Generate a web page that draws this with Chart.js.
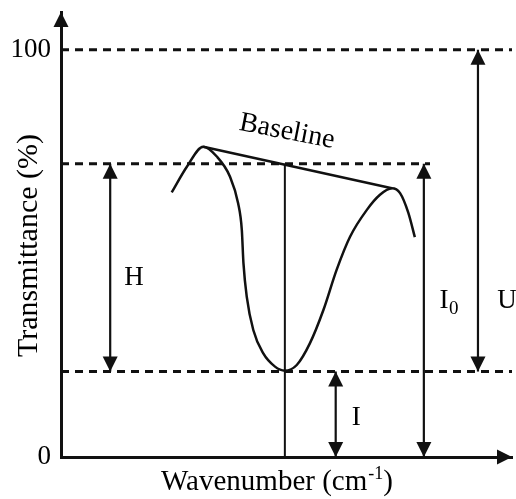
<!DOCTYPE html>
<html>
<head>
<meta charset="utf-8">
<script src="https://cdn.jsdelivr.net/npm/chart.js@4"></script>
<style>
  body { margin: 0; background: #fff; }
</style>
</head>
<body>
<canvas id="ir-band" width="516" height="499"></canvas>
<script>
// absorption band, x in arbitrary wavenumber units, y in % transmittance
var wavenumber = [27.0, 30.7, 34.7, 38.0, 41.2, 43.2, 44.1, 44.5, 45.3, 46.9, 49.3, 52.2,
                  54.6, 57.5, 60.7, 64.0, 67.2, 70.5, 74.6, 77.8, 80.7, 82.7, 84.7, 86.3];
var transmittance = [65.0, 71.3, 76.2, 73.8, 68.9, 62.3, 55.8, 47.6, 39.4, 31.2, 25.5, 22.2,
                     21.2, 22.6, 27.9, 36.1, 45.9, 54.1, 60.7, 64.4, 66.0, 64.8, 60.0, 54.0];

// straight baseline between the two shoulders
var baselineX = [34.7, 80.7];
var baselineY = [76.2, 66.0];

// band centre
var bandCentre = 54.6;

// dashed reference levels: 100 %, baseline at centre, band minimum
var levels = [100, 72, 21];
var levelEnds = [110, 90, 110];

// double arrows H, I, I0, U  (top and bottom value of each)
var arrowNames = ['H', 'I', 'I0', 'U'];
var arrowTop = [72, 21, 72, 100];
var arrowBottom = [21, 0, 0, 21];
var arrowAt = [12, 67, 88.5, 101.7];

var yTicks = [0, 100];

var FONT = '"Liberation Serif", "Times New Roman", serif';

function head(ctx, x, y, angle) {
    ctx.save();
    ctx.translate(x, y);
    ctx.rotate(angle);
    ctx.beginPath();
    ctx.moveTo(0, 0);
    ctx.lineTo(-15, -7.5);
    ctx.lineTo(-15, 7.5);
    ctx.closePath();
    ctx.fill();
    ctx.restore();
}

var datasets = [];

levels.forEach(function (v, i) {
    datasets.push({
        data: [{ x: 0, y: v }, { x: levelEnds[i], y: v }],
        borderColor: '#111',
        borderWidth: 3,
        borderDash: [8, 6],
        pointRadius: 0
    });
});

datasets.push({
    data: wavenumber.map(function (x, i) { return { x: x, y: transmittance[i] }; }),
    borderColor: '#111',
    borderWidth: 2.5,
    pointRadius: 0,
    cubicInterpolationMode: 'monotone'
});

datasets.push({
    data: [{ x: baselineX[0], y: baselineY[0] }, { x: baselineX[1], y: baselineY[1] }],
    borderColor: '#111',
    borderWidth: 2.5,
    pointRadius: 0
});

datasets.push({
    data: [{ x: bandCentre, y: 0 }, { x: bandCentre, y: levels[1] }],
    borderColor: '#111',
    borderWidth: 2,
    pointRadius: 0
});

arrowNames.forEach(function (name, i) {
    datasets.push({
        label: name,
        arrow: true,
        data: [{ x: arrowAt[i], y: arrowTop[i] }, { x: arrowAt[i], y: arrowBottom[i] }],
        borderColor: '#111',
        borderWidth: 2.2,
        pointRadius: 0
    });
});

var decorations = {
    id: 'decorations',
    afterDatasetsDraw: function (chart) {
        var ctx = chart.ctx;
        var area = chart.chartArea;
        var xs = chart.scales.x, ys = chart.scales.y;
        ctx.save();
        ctx.fillStyle = '#111';

        // arrow heads on the measuring arrows
        chart.data.datasets.forEach(function (ds, i) {
            if (!ds.arrow) return;
            var pts = chart.getDatasetMeta(i).data;
            var a = pts[0], b = pts[pts.length - 1];
            var ang = Math.atan2(b.y - a.y, b.x - a.x);
            head(ctx, b.x, b.y, ang);
            head(ctx, a.x, a.y, ang + Math.PI);
        });

        // axis arrows
        head(ctx, area.left, area.top, -Math.PI / 2);
        head(ctx, area.right, area.bottom, 0);

        // labels
        ctx.fillStyle = '#000';
        ctx.textBaseline = 'alphabetic';
        ctx.font = '27px ' + FONT;
        ctx.textAlign = 'center';
        ctx.fillText('H', xs.getPixelForValue(17.8), ys.getPixelForValue(42.3));
        ctx.fillText('I', xs.getPixelForValue(72.0), ys.getPixelForValue(7.9));
        ctx.fillText('U', xs.getPixelForValue(108.8), ys.getPixelForValue(36.6));

        // I0 with subscript
        var ix = xs.getPixelForValue(93.4), iy = ys.getPixelForValue(36.6);
        ctx.fillText('I', ix, iy);
        ctx.font = '19px ' + FONT;
        ctx.textAlign = 'left';
        ctx.fillText('0', ix + 5, iy + 6);

        // Baseline label, tilted along the baseline
        ctx.save();
        ctx.translate(xs.getPixelForValue(55.1), ys.getPixelForValue(79.9));
        ctx.rotate(11 * Math.PI / 180);
        ctx.font = '28px ' + FONT;
        ctx.textAlign = 'center';
        ctx.textBaseline = 'middle';
        ctx.fillText('Baseline', 0, 0);
        ctx.restore();

        // y title
        ctx.save();
        ctx.translate(37, (area.top + area.bottom) / 2 + 11);
        ctx.rotate(-Math.PI / 2);
        ctx.font = '30px ' + FONT;
        ctx.textAlign = 'center';
        ctx.fillText('Transmittance (%)', 0, 0);
        ctx.restore();

        // x title with superscript
        var main = 'Wavenumber (cm', sup = '-1', end = ')';
        ctx.font = '29px ' + FONT;
        var w1 = ctx.measureText(main).width, w3 = ctx.measureText(end).width;
        ctx.font = '18px ' + FONT;
        var w2 = ctx.measureText(sup).width;
        var x0 = 276.5 - (w1 + w2 + w3) / 2, yb = 490;
        ctx.textAlign = 'left';
        ctx.font = '29px ' + FONT;
        ctx.fillText(main, x0, yb);
        ctx.font = '18px ' + FONT;
        ctx.fillText(sup, x0 + w1 + 1, yb - 11);
        ctx.font = '29px ' + FONT;
        ctx.fillText(end, x0 + w1 + w2 + 1, yb);

        ctx.restore();
    }
};

var chart = new Chart(document.getElementById('ir-band').getContext('2d'), {
    type: 'scatter',
    data: { datasets: datasets },
    options: {
        responsive: false,
        devicePixelRatio: 1,
        animation: false,
        showLine: true,
        layout: { padding: { top: 12, right: 4, left: 0, bottom: 0 } },
        plugins: {
            legend: { display: false },
            tooltip: { enabled: false }
        },
        scales: {
            x: {
                type: 'linear',
                min: 0,
                max: 110,
                grid: { display: false, drawTicks: false },
                border: { display: true, color: '#111', width: 3 },
                ticks: { display: false },
                afterFit: function (s) { s.height = 42; s.paddingLeft = 0; s.paddingRight = 0; }
            },
            y: {
                type: 'linear',
                min: 0,
                max: 109.3,
                grid: { display: false, drawTicks: false },
                border: { display: true, color: '#111', width: 3 },
                afterBuildTicks: function (s) {
                    s.ticks = yTicks.map(function (v) { return { value: v }; });
                },
                ticks: {
                    color: '#000',
                    padding: 10,
                    font: { family: FONT, size: 27 }
                },
                afterFit: function (s) { s.width = 61; s.paddingTop = 0; s.paddingBottom = 0; }
            }
        }
    },
    plugins: [decorations]
});
</script>
</body>
</html>
